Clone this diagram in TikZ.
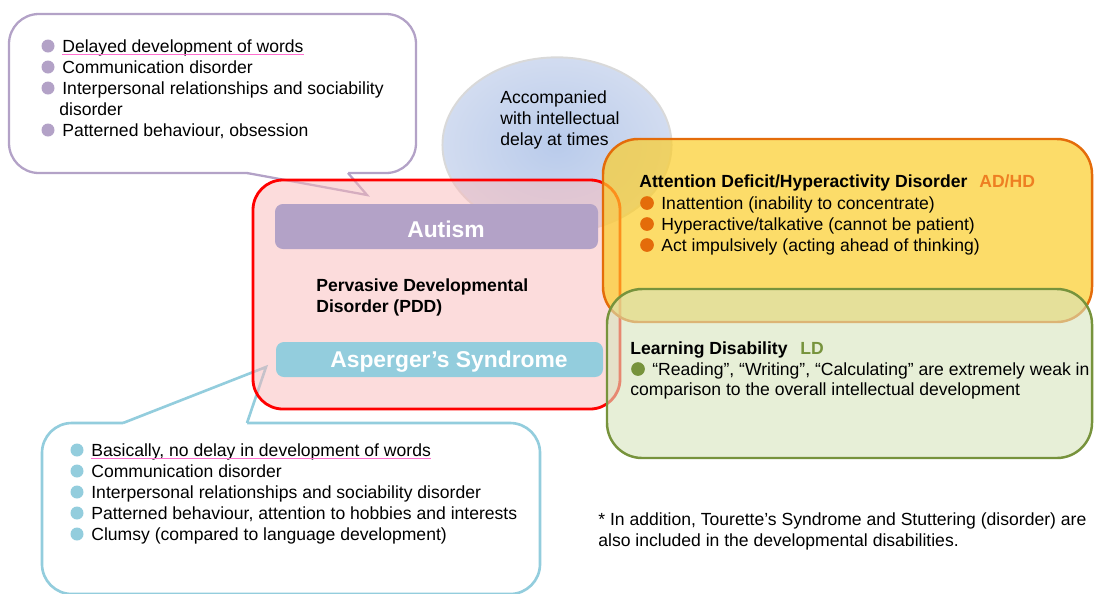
\documentclass[tikz,border=0pt]{standalone}
\usepackage{fontspec}
\setmainfont{Liberation Sans}
\definecolor{autpurple}{HTML}{B3A2C7}
\definecolor{aspblue}{HTML}{93CDDD}
\definecolor{pddpink}{HTML}{F9B9B9}
\definecolor{adorange}{HTML}{E46C0A}
\definecolor{adlabel}{HTML}{EE7F22}
\definecolor{adyellow}{HTML}{FBCD2A}
\definecolor{ldgreen}{HTML}{77933C}
\definecolor{ldfill}{HTML}{D7E4BD}
\definecolor{ellin}{HTML}{B9CBEB}
\definecolor{ellout}{HTML}{D2DCF0}
\definecolor{ulpink}{HTML}{FF6FCF}

\begin{document}
\begin{tikzpicture}[x=0.02cm, y=-0.02cm,
    txt/.style={anchor=base west, inner sep=0pt, font=\fontsize{10}{12}\selectfont},
    btxt/.style={txt, font=\fontsize{10}{12}\selectfont\bfseries},
    bartxt/.style={anchor=base, inner sep=0pt, text=white, font=\fontsize{13}{15}\selectfont\bfseries},
    uline/.style={ulpink, line width=0.6pt}]
        \useasboundingbox (0,0) rectangle (1094,593);

        % intellectual delay bubble
        \shade [inner color=ellin, outer color=ellout] (557,145) ellipse [x radius=65.2pt, y radius=49.9pt];
        \draw [black!15, line width=1.1pt] (557,145) ellipse [x radius=65.2pt, y radius=49.9pt];

        % callouts
        \draw [autpurple, line width=1.3pt, fill=white, rounded corners=17pt] (9,14) rectangle (416,173);
        \fill [white] (247,169) -- (348,169) -- (348,173) -- (367,195) -- (247,173) -- cycle;
        \draw [autpurple, line width=1.3pt] (247,173) -- (367,195) -- (348,173);

        \draw [aspblue, line width=1.5pt, fill=white, rounded corners=17pt] (42,423) rectangle (540,594);
        \fill [white] (123,427) -- (123,423) -- (266,367) -- (247,423) -- (247,427) -- cycle;
        \draw [aspblue, line width=1.5pt] (123,423) -- (266,367) -- (247,423);

        % PDD
        \draw [red, line width=1.6pt, fill=pddpink, fill opacity=0.5, rounded corners=17pt] (253,180) rectangle (620,409);
        \fill [autpurple, rounded corners=4.5pt] (275,204) rectangle (598,249);
        \fill [aspblue, rounded corners=4.5pt] (276,342) rectangle (603,377);
        \draw (446,237) node[bartxt] (aut) {Autism};
        \draw (449,367) node[bartxt] (asp) {Asperger’s Syndrome};
        \draw (316,291) node[btxt] (pdda) {Pervasive Developmental};
        \draw (316,312) node[btxt] (pddb) {Disorder (PDD)};

        % AD/HD and LD
        \draw [adorange, line width=1.4pt, fill=adyellow, fill opacity=0.7, rounded corners=20pt] (603,139) rectangle (1092,322);
        \draw [ldgreen, line width=1.4pt, fill=ldfill, fill opacity=0.6, rounded corners=20pt] (607,289) rectangle (1092,458);

        \draw (500,103) node[txt] (ida) {Accompanied};
        \draw (500,124) node[txt] (idb) {with intellectual};
        \draw (500,145) node[txt] (idc) {delay at times};

        \fill [autpurple] (48,46) circle (3.7pt);
        \fill [autpurple] (48,67) circle (3.7pt);
        \fill [autpurple] (48,88) circle (3.7pt);
        \fill [autpurple] (48,130) circle (3.7pt);
        \draw (62,52) node[txt] (aua) {Delayed development of words};
        \draw (62,73) node[txt] (aub) {Communication disorder};
        \draw (62,94) node[txt] (auc) {Interpersonal relationships and sociability};
        \draw (59,115) node[txt] (aud) {disorder};
        \draw (62,136) node[txt] (aue) {Patterned behaviour, obsession};
        \draw [uline] ([yshift=-1.3pt]aua.base west) -- ([yshift=-1.3pt]aua.base east);

        \fill [aspblue] (77,450) circle (3.7pt);
        \fill [aspblue] (77,471) circle (3.7pt);
        \fill [aspblue] (77,492) circle (3.7pt);
        \fill [aspblue] (77,513) circle (3.7pt);
        \fill [aspblue] (77,534) circle (3.7pt);
        \draw (91,456) node[txt] (asa) {Basically, no delay in development of words};
        \draw (91,477) node[txt] (asb) {Communication disorder};
        \draw (91,498) node[txt] (asc) {Interpersonal relationships and sociability disorder};
        \draw (91,519) node[txt] (asd) {Patterned behaviour, attention to hobbies and interests};
        \draw (91,540) node[txt] (ase) {Clumsy (compared to language development)};
        \draw [uline] ([yshift=-1.3pt]asa.base west) -- ([yshift=-1.3pt]asa.base east);

        \draw (639,187) node[btxt] (adt) {Attention Deficit/Hyperactivity Disorder};
        \draw (979,187) node[btxt, text=adlabel] (adab) {AD/HD};
        \fill [adorange] (647,203) circle (3.9pt);
        \fill [adorange] (647,224) circle (3.9pt);
        \fill [adorange] (647,245) circle (3.9pt);
        \draw (661,209) node[txt] (ada) {Inattention (inability to concentrate)};
        \draw (661,230) node[txt] (adb) {Hyperactive/talkative (cannot be patient)};
        \draw (661,251) node[txt] (adc) {Act impulsively (acting ahead of thinking)};

        \draw (630,354) node[btxt] (ldt) {Learning Disability};
        \draw (800,354) node[btxt, text=ldgreen] (ldab) {LD};
        \fill [ldgreen] (638,369) circle (3.9pt);
        \draw (652,375) node[txt] (lda) {“Reading”, “Writing”, “Calculating” are extremely weak in};
        \draw (630,395) node[txt] (ldb) {comparison to the overall intellectual development};

        \draw (598,525) node[txt] (nta) {* In addition, Tourette’s Syndrome and Stuttering (disorder) are};
        \draw (598,546) node[txt] (ntb) {also included in the developmental disabilities.};
    \end{tikzpicture}
\end{document}
